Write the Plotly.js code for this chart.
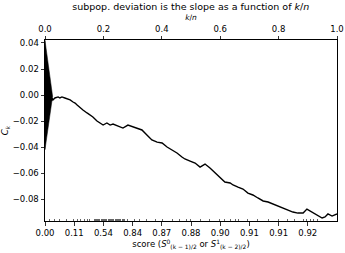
<!DOCTYPE html>
<html><head><meta charset="utf-8">
<script src="https://cdn.plot.ly/plotly-3.0.1.min.js"></script>
<style>html,body{margin:0;padding:0;background:#fff}#c{width:345px;height:253px}</style>
</head><body><div id="c"></div>
<script>
// cumulative deviation C_k as a function of k/n
const kn = [0.024,0.027,0.034,0.045,0.051,0.058,0.068,0.079,0.086,0.096,0.103,0.110,0.120,0.130,0.144,0.154,0.164,0.178,0.188,0.199,0.212,0.223,0.233,0.247,0.257,0.267,0.284,0.301,0.318,0.332,0.349,0.366,0.384,0.401,0.418,0.435,0.452,0.469,0.479,0.497,0.514,0.531,0.548,0.565,0.582,0.599,0.616,0.634,0.644,0.661,0.678,0.695,0.712,0.729,0.747,0.764,0.781,0.798,0.815,0.832,0.849,0.866,0.884,0.897,0.914,0.932,0.949,0.959,0.969,0.983,1.000];
const ck = [-0.0023,-0.0038,-0.0023,-0.0015,-0.0023,-0.0015,-0.0023,-0.0031,-0.0038,-0.0054,-0.0062,-0.0077,-0.0100,-0.0115,-0.0138,-0.0154,-0.0169,-0.0200,-0.0215,-0.0231,-0.0215,-0.0231,-0.0223,-0.0238,-0.0246,-0.0254,-0.0231,-0.0246,-0.0262,-0.0269,-0.0308,-0.0346,-0.0362,-0.0369,-0.0400,-0.0423,-0.0446,-0.0477,-0.0492,-0.0508,-0.0523,-0.0554,-0.0531,-0.0562,-0.0600,-0.0638,-0.0669,-0.0677,-0.0692,-0.0708,-0.0723,-0.0754,-0.0769,-0.0792,-0.0815,-0.0823,-0.0838,-0.0854,-0.0869,-0.0885,-0.0900,-0.0908,-0.0908,-0.0877,-0.0900,-0.0923,-0.0946,-0.0938,-0.0915,-0.0931,-0.0915];
// triangle at the origin
const triX = [0, 0.026, 0, 0];
const triY = [0.042, -0.001, -0.042, 0.042];
// bottom axis: score labels at k/n positions
const scoreTickKn = [0,0.1,0.2,0.3,0.4,0.5,0.6,0.7,0.8,0.9];
const scoreTickText = ["0.00","0.11","0.54","0.84","0.87","0.88","0.90","0.91","0.91","0.92"];
const scoreMinorKn = [0.014,0.031,0.051,0.075,0.099,0.110,0.120,0.134,0.144,0.154,0.168,0.172,0.176,0.180,0.184,0.188,0.192,0.196,0.200,0.204,0.208,0.212,0.216,0.220,0.224,0.228,0.232,0.236,0.240,0.244,0.248,0.252,0.256,0.260,0.264,0.268,0.271,0.281,0.305,0.322,0.349,0.377,0.404,0.435,0.462,0.486,0.497,0.531,0.565,0.599,0.616,0.634,0.651,0.661,0.692,0.729,0.764,0.798,0.832,0.856,0.884,0.897,0.908,0.918,0.932];
// top axis
const knTicks = [0,0.2,0.4,0.6,0.8,1.0];
// left axis
const ckTicks = [-0.08,-0.06,-0.04,-0.02,0.00,0.02,0.04];

const F = 'DejaVu Sans, sans-serif';
const data = [
  {x: triX, y: triY, mode: 'lines', fill: 'toself', fillcolor: '#000', line: {color: '#000', width: 0.5}, hoverinfo: 'skip', showlegend: false},
  {x: kn, y: ck, mode: 'lines', line: {color: '#000', width: 1.4}, showlegend: false},
  {x: [0, 1], y: [0, 0], xaxis: 'x2', mode: 'lines', line: {width: 0}, hoverinfo: 'skip', showlegend: false}
];
const layout = {
  width: 345, height: 253,
  margin: {l: 45, r: 8, t: 40, b: 32},
  paper_bgcolor: '#fff', plot_bgcolor: '#fff',
  font: {family: F, size: 8.5, color: '#000'},
  title: {text: 'subpop. deviation is the slope as a function of <i>k</i>/<i>n</i>', font: {family: F, size: 9.5, color: '#000'}, x: 0.553, xanchor: 'center', y: 0.985, yanchor: 'top'},
  xaxis: {
    range: [0, 1], showgrid: false, zeroline: false, showline: true, linecolor: '#000', linewidth: 1,
    tickmode: 'array', tickvals: scoreTickKn, ticktext: scoreTickText,
    ticks: 'outside', ticklen: 3.5, tickwidth: 0.8, tickcolor: '#000',
    tickfont: {family: F, size: 8.5, color: '#000'},
    minor: {tickmode: 'array', tickvals: scoreMinorKn, ticks: 'inside', ticklen: 2, tickwidth: 0.6, tickcolor: '#000', showgrid: false},
    title: {text: 'score (<i>S</i><sup>0</sup><sub>(k − 1)/2</sub> or <i>S</i><sup>1</sup><sub>(k − 2)/2</sub>)', font: {family: F, size: 8.5, color: '#000'}, standoff: 3}
  },
  xaxis2: {
    overlaying: 'x', side: 'top', anchor: 'y', range: [0, 1], showgrid: false, zeroline: false,
    showline: true, linecolor: '#000', linewidth: 1,
    tickmode: 'array', tickvals: knTicks, tickformat: '.1f',
    ticks: 'outside', ticklen: 3.5, tickwidth: 0.8, tickcolor: '#000',
    tickfont: {family: F, size: 8.5, color: '#000'},
    title: {text: '<i>k</i>/<i>n</i>', font: {family: F, size: 7.5, color: '#000'}, standoff: 2}
  },
  yaxis: {
    range: [-0.0969, 0.0423], showgrid: false, zeroline: false, showline: true, linecolor: '#000', linewidth: 1, mirror: true,
    tickmode: 'array', tickvals: ckTicks, tickformat: '.2f',
    ticks: 'outside', ticklen: 3.5, tickwidth: 0.8, tickcolor: '#000',
    tickfont: {family: F, size: 8.5, color: '#000'},
    title: {text: '<i>C<sub>k</sub></i>', font: {family: F, size: 8.5, color: '#000'}, standoff: 6}
  }
};
Plotly.newPlot('c', data, layout, {staticPlot: true, displayModeBar: false});
</script></body></html>
